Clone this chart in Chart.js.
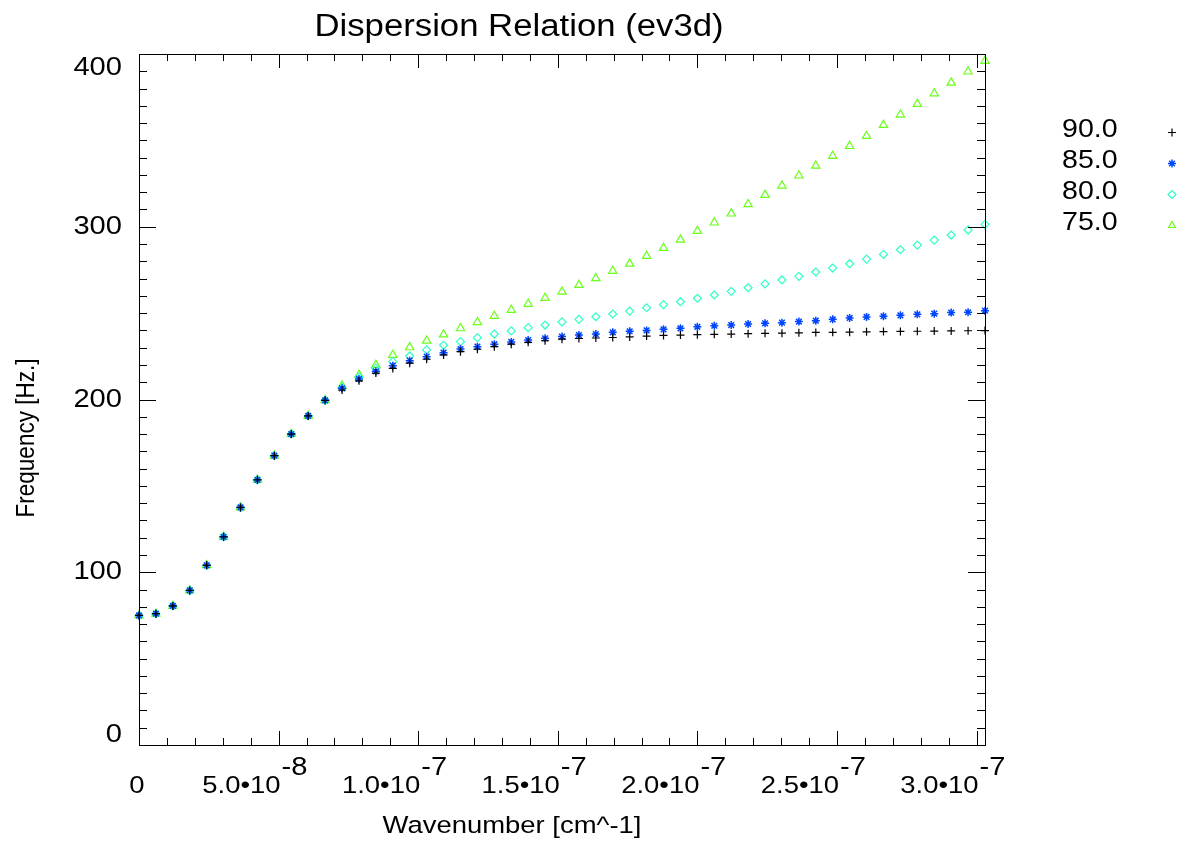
<!DOCTYPE html>
<html>
<head>
<meta charset="utf-8">
<title>Dispersion Relation (ev3d)</title>
<script src="https://cdn.jsdelivr.net/npm/chart.js@4.4.1/dist/chart.umd.min.js"></script>
<style>
  html, body { margin: 0; padding: 0; background: #ffffff; }
  #wrap { position: relative; width: 1186px; height: 846px; }
</style>
</head>
<body>
<div id="wrap"><canvas id="dispersionChart"></canvas></div>
<script>
// wavenumber, in units of 1e-9 cm^-1
const wavenumber = [0, 6.06, 12.12, 18.18, 24.24, 30.3, 36.36, 42.42, 48.48, 54.54,
  60.6, 66.66, 72.72, 78.78, 84.84, 90.9, 96.96, 103.02, 109.08, 115.14,
  121.2, 127.26, 133.32, 139.38, 145.44, 151.5, 157.56, 163.62, 169.68, 175.74,
  181.8, 187.86, 193.92, 199.98, 206.04, 212.1, 218.16, 224.22, 230.28, 236.34,
  242.4, 248.46, 254.52, 260.58, 266.64, 272.7, 278.76, 284.82, 290.88, 296.94, 303.0];

// frequency [Hz.] for each angle
const freq90 = [75, 76, 80.5, 89.5, 104, 120.5, 137.5, 153.5, 167.5, 180,
  190.5, 199.5, 205.5, 210.8, 215.3, 218.0, 221.0, 223.3, 225.8, 227.7,
  229.1, 230.6, 232.0, 233.1, 234.0, 234.9, 235.3, 235.6, 235.9, 236.2,
  236.7, 237.1, 237.3, 237.5, 237.7, 237.9, 238.1, 238.3, 238.4, 238.6,
  238.8, 238.9, 239.0, 239.2, 239.3, 239.4, 239.5, 239.6, 239.7, 239.8, 239.9];
const freq85 = [75, 76, 80.5, 89.5, 104, 120.5, 137.5, 153.5, 167.5, 180,
  190.5, 199.5, 206.5, 211.9, 216.3, 219.6, 222.5, 224.8, 227.1, 229.2,
  230.6, 232.0, 233.3, 234.4, 235.4, 236.4, 237.3, 237.9, 238.9, 239.5,
  240.0, 240.6, 241.2, 242.1, 242.7, 243.1, 243.7, 244.1, 244.5, 245.1,
  245.6, 246.4, 247.2, 247.8, 248.2, 248.7, 249.3, 249.7, 250.3, 250.5, 251.4];
const freq80 = [75, 76, 80.5, 89.5, 104, 120.5, 137.5, 153.5, 167.5, 180,
  190.5, 199.5, 207.0, 213.0, 218.0, 221.9, 225.2, 228.7, 231.4, 233.5,
  235.8, 237.9, 239.7, 241.6, 243.1, 244.9, 246.4, 247.9, 249.5, 251.2,
  253.1, 254.9, 256.6, 258.6, 260.5, 262.6, 264.7, 266.9, 269.2, 271.3,
  273.8, 276.1, 278.6, 281.3, 284.0, 286.7, 289.4, 292.3, 295.2, 298.1, 301.4];
const freq75 = [75, 76, 80.5, 89.5, 104, 120.5, 137.5, 153.5, 167.5, 180,
  190.5, 199.5, 208.0, 214.2, 220.0, 225.8, 230.2, 234.0, 237.6, 241.2,
  244.7, 248.3, 251.8, 255.3, 258.8, 262.4, 266.3, 270.2, 274.4, 278.6,
  283.1, 287.7, 292.5, 297.5, 302.4, 307.6, 313.0, 318.4, 323.8, 329.6,
  335.3, 341.0, 346.7, 352.5, 358.9, 364.9, 371.1, 377.2, 383.4, 389.8, 396.0];

const angleLabels = ['90.0', '85.0', '80.0', '75.0'];
const angleColors = ['#000000', '#0045ff', '#2effc8', '#6aff1a'];
const angleSymbols = ['cross', 'star', 'rectRot', 'triangle'];

// axis ticks
const yTickValues = [0, 100, 200, 300, 400];
const xTickValues = [0, 5e-8, 1e-7, 1.5e-7, 2e-7, 2.5e-7, 3e-7];
const xTickMantissa = ['0', '5.0\u202210', '1.0\u202210', '1.5\u202210', '2.0\u202210', '2.5\u202210', '3.0\u202210'];
const xTickExponent = ['', '-8', '-7', '-7', '-7', '-7', '-7'];

const FONT = '"Liberation Sans", Arial, Helvetica, sans-serif';
const SX = 1.12; // the original text is a bit wide

function wideText(ctx, str, x, y, align, sx) {
  ctx.save();
  ctx.translate(x, y);
  ctx.scale(sx, 1);
  ctx.textAlign = align;
  ctx.fillText(str, 0, 0);
  ctx.restore();
}

const idlFrame = {
  id: 'idlFrame',
  afterDatasetsDraw(chart) {
    const ctx = chart.ctx;
    const a = chart.chartArea;
    const xs = chart.scales.x;
    const ys = chart.scales.y;
    ctx.save();
    ctx.strokeStyle = '#000';
    ctx.lineWidth = 1;

    // box
    ctx.strokeRect(Math.round(a.left) + 0.5, Math.round(a.top) + 0.5,
      Math.round(a.right - a.left), Math.round(a.bottom - a.top));

    // inward ticks, x
    ctx.beginPath();
    for (let i = 0; i <= 30; i++) {
      const px = Math.round(xs.getPixelForValue(i * 1e-8)) + 0.5;
      const len = (i % 5 === 0) ? 14 : 7;
      ctx.moveTo(px, a.bottom); ctx.lineTo(px, a.bottom - len);
      ctx.moveTo(px, a.top); ctx.lineTo(px, a.top + len);
    }
    // inward ticks, y
    for (let v = 0; v <= 400; v += 10) {
      const py = Math.round(ys.getPixelForValue(v)) + 0.5;
      const len = (v % 100 === 0) ? 17 : 8;
      ctx.moveTo(a.left, py); ctx.lineTo(a.left + len, py);
      ctx.moveTo(a.right, py); ctx.lineTo(a.right - len, py);
    }
    ctx.stroke();

    ctx.fillStyle = '#000';
    ctx.textBaseline = 'alphabetic';

    // title
    ctx.font = '31px ' + FONT;
    wideText(ctx, 'Dispersion Relation (ev3d)', 519, 36, 'center', SX);

    // x tick labels with superscript exponents
    xTickValues.forEach((v, i) => {
      const px = xs.getPixelForValue(v);
      ctx.font = '24.5px ' + FONT;
      if (xTickExponent[i] === '') {
        wideText(ctx, xTickMantissa[i], px - 2, 793, 'center', SX);
      } else {
        wideText(ctx, xTickMantissa[i], px + 2, 793, 'right', SX);
        ctx.font = '26px ' + FONT;
        wideText(ctx, xTickExponent[i], px + 3, 775, 'left', SX);
      }
    });

    // y tick labels
    ctx.font = '26px ' + FONT;
    ctx.textBaseline = 'middle';
    yTickValues.forEach(v => {
      let py = ys.getPixelForValue(v);
      py = Math.min(Math.max(py, 68), 735);
      wideText(ctx, String(v), 122, py, 'right', SX);
    });

    // axis titles
    ctx.font = '24.5px ' + FONT;
    ctx.textBaseline = 'alphabetic';
    wideText(ctx, 'Wavenumber [cm^-1]', 512, 833, 'center', SX);
    ctx.save();
    ctx.translate(34, 438);
    ctx.rotate(-Math.PI / 2);
    ctx.scale(1, 1.12);
    ctx.font = '22.5px ' + FONT;
    ctx.textAlign = 'center';
    ctx.fillText('Frequency [Hz.]', 0, 0);
    ctx.restore();

    // legend: label then symbol
    ctx.font = '25.5px ' + FONT;
    angleLabels.forEach((lab, i) => {
      const base = 137 + i * 31;
      ctx.fillStyle = '#000';
      wideText(ctx, lab, 1062, base, 'left', SX);
      ctx.strokeStyle = angleColors[i];
      ctx.fillStyle = 'rgba(0,0,0,0)';
      ctx.lineWidth = i === 1 ? 1.5 : 1.2;
      Chart.helpers.drawPoint(ctx, {
        pointStyle: angleSymbols[i], radius: 4, rotation: 0, borderWidth: 1
      }, 1172, base - 4.5);
    });
    ctx.restore();
  }
};

function toPoints(values) {
  return values.map((f, i) => ({ x: wavenumber[i] * 1e-9, y: f }));
}

const allFreqs = [freq90, freq85, freq80, freq75];

const ctx = document.getElementById('dispersionChart').getContext('2d');
const dispersionChart = new Chart(ctx, {
  type: 'scatter',
  data: {
    datasets: allFreqs.map((vals, i) => ({
      label: angleLabels[i],
      data: toPoints(vals),
      showLine: false,
      pointStyle: angleSymbols[i],
      pointRadius: i === 3 ? 4.8 : 4,
      pointBorderColor: angleColors[i],
      pointBackgroundColor: 'rgba(0,0,0,0)',
      pointBorderWidth: i === 1 ? 1.5 : 1.2,
      clip: false
    }))
  },
  options: {
    responsive: true,
    maintainAspectRatio: false,
    animation: false,
    layout: { padding: { left: 139, right: 201, top: 54, bottom: 101 } },
    scales: {
      x: { type: 'linear', min: 0, max: 3.03e-7, display: false },
      y: { type: 'linear', min: 0, max: 400, display: false }
    },
    plugins: {
      legend: { display: false },
      tooltip: { enabled: false }
    }
  },
  plugins: [idlFrame]
});
</script>
</body>
</html>
